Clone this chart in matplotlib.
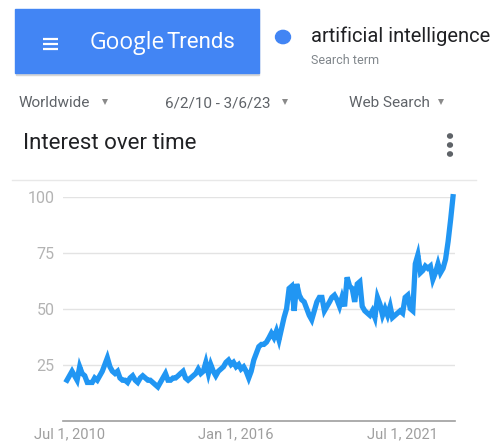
import matplotlib
matplotlib.use("Agg")
import matplotlib.pyplot as plt
from matplotlib.patches import Rectangle, Circle
import pandas as pd
from datetime import datetime

# Monthly search interest for "artificial intelligence", Jun 2010 - Mar 2023
interest = [
    18, 20, 22, 20, 18, 24, 21, 20, 17, 17, 17, 19,
    18, 20, 22, 25, 28, 24, 22, 21, 22, 19, 18, 18,
    17, 19, 20, 18, 17, 19, 20, 19, 18, 18, 17, 16,
    15, 17, 19, 21, 18, 18, 19, 19, 20, 21, 22, 19,
    18, 19, 20, 21, 23, 21, 22, 26, 21, 25, 22, 20,
    22, 23, 24, 26, 27, 25, 26, 24, 25, 23, 24, 22,
    19, 22, 27, 30, 33, 34, 34, 35, 37, 39, 37, 40,
    36, 41, 46, 50, 59, 60, 49, 61, 56, 54, 53, 50,
    47, 45, 49, 53, 55, 55, 49, 51, 53, 55, 56, 54,
    51, 55, 51, 64, 60, 59, 53, 61, 62, 51, 49, 48,
    47, 49, 46, 55, 52, 47, 50, 47, 51, 46, 47, 48,
    49, 48, 55, 56, 50, 49, 70, 74, 66, 67, 69, 68,
    69, 63, 66, 70, 66, 68, 72, 80, 90, 100,
]
months = pd.date_range("2010-06-01", periods=len(interest), freq="MS")

y_ticks = [25, 50, 75, 100]
x_tick_dates = [datetime(2010, 7, 1), datetime(2016, 1, 1), datetime(2021, 7, 1)]
x_tick_labels = ["Jul 1, 2010", "Jan 1, 2016", "Jul 1, 2021"]

search_term = "artificial intelligence"
filters = ["Worldwide", "6/2/10 - 3/6/23", "Web Search"]

W, H = 498, 441
fig = plt.figure(figsize=(W / 100, H / 100), dpi=100)
fig.patch.set_facecolor("white")

FONT = ["Roboto", "DejaVu Sans"]
BLUE = "#4285f4"
LINE = "#2196f3"


def fx(x):
    return x / W


def fy(y):
    return 1 - y / H


# Header bar with soft shadow
fig.patches.append(Rectangle((fx(16), fy(75)), fx(243), 65 / H,
                             transform=fig.transFigure, color="#d6d6d6",
                             zorder=0))
fig.patches.append(Rectangle((fx(15), fy(73)), fx(244), 64 / H,
                             transform=fig.transFigure, color=BLUE, zorder=1))
for yy in (38.5, 43.5, 48.5):
    fig.add_artist(plt.Line2D([fx(43), fx(58)], [fy(yy), fy(yy)],
                              transform=fig.transFigure, color="white",
                              lw=1.6, solid_capstyle="butt", zorder=2))
fig.text(fx(90), fy(43), "Google", color="white", fontsize=16.5,
         family=["Open Sans", "DejaVu Sans"], va="center", ha="left", zorder=3)
fig.text(fx(166), fy(43), "Trends", color="white", fontsize=16,
         family=FONT, va="center", ha="left", zorder=3)

# Search term legend
fig.patches.append(Circle((fx(283), fy(37)), 7.5 / W, transform=fig.transFigure,
                          color=BLUE, zorder=2))
fig.text(fx(311), fy(36), search_term, color="#202124", fontsize=14.5,
         family=FONT, va="center", ha="left")
fig.text(fx(311), fy(61), "Search term", color="#80868b", fontsize=9,
         family=FONT, va="center", ha="left")

# Filter row
for label, x0, x_tri in zip(filters, [19, 165, 349], [105, 285, 441]):
    fig.text(fx(x0), fy(103), label, color="#5f6368", fontsize=11,
             family=FONT, va="center", ha="left")
    fig.add_artist(plt.Line2D([fx(x_tri)], [fy(102)], transform=fig.transFigure,
                              marker="v", markersize=4.2, color="#8a8a8a",
                              markeredgewidth=0))

# Card title and menu
fig.text(fx(23), fy(144), "Interest over time", color="#202124", fontsize=16,
         family=FONT, va="center", ha="left")
for yy in (136, 145, 154):
    fig.patches.append(Circle((fx(450), fy(yy)), 2.4 / W,
                              transform=fig.transFigure, color="#5f6368"))
fig.add_artist(plt.Line2D([fx(12), fx(476)], [fy(179.5), fy(179.5)],
                          transform=fig.transFigure, color="#e8e8e8", lw=1))

# Plot area
left, right = 63, 455
top, bottom = 196.7, 420.5
ax = fig.add_axes([fx(left), fy(bottom), (right - left) / W, (bottom - top) / H])
ax.plot(months, interest, color=LINE, lw=3.8, solid_joinstyle="miter",
        clip_on=False, zorder=3)
ax.set_ylim(0, 100)
ax.set_xlim(months[0] - pd.Timedelta(days=48), months[-1] + pd.Timedelta(days=24))

for v in y_ticks:
    ax.axhline(v, color="#e3e3e3", lw=1, zorder=1)
ax.axhline(0, color="#9e9e9e", lw=1.2, zorder=2, clip_on=False)

for s in ax.spines.values():
    s.set_visible(False)
ax.set_yticks(y_ticks)
ax.set_yticklabels([str(v) for v in y_ticks], color="#b3b3b3", fontsize=11.5,
                   family=FONT)
ax.set_xticks(x_tick_dates)
ax.set_xticklabels(x_tick_labels, color="#9e9e9e", fontsize=10.5, family=FONT)
ax.tick_params(length=0)
ax.tick_params(axis="y", pad=6)
ax.tick_params(axis="x", pad=5)
ax.set_facecolor("white")

fig.savefig("out.png", dpi=100)
